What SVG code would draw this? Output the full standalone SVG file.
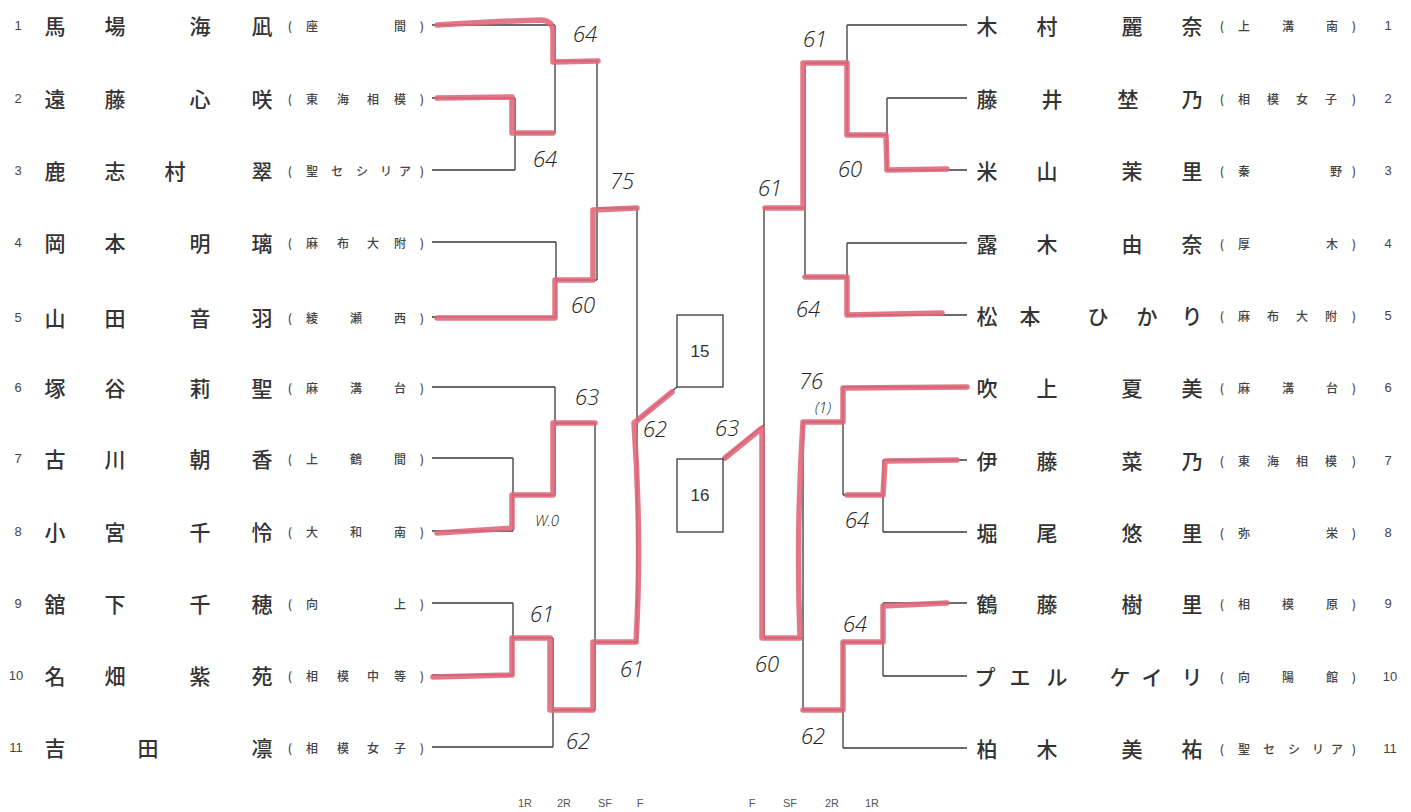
<svg xmlns="http://www.w3.org/2000/svg" width="1411" height="812" viewBox="0 0 1411 812">
<style>
.bg{fill:#ffffff}
.ln{fill:none;stroke:#3a3a3a;stroke-width:1.3}
.box{fill:#ffffff;stroke:#3a3a3a;stroke-width:1.3}
.hl{fill:none;stroke:#e0687a;stroke-width:5.5;stroke-linejoin:round;stroke-linecap:round;opacity:0.9}
.nm{font-family:"Noto Sans CJK JP","Noto Sans CJK SC",sans-serif;font-size:21px;font-weight:500;fill:#333;text-anchor:middle;dominant-baseline:central}
.sc{font-family:"Noto Sans CJK JP","Noto Sans CJK SC",sans-serif;font-size:12px;font-weight:500;fill:#444;text-anchor:middle;dominant-baseline:central}
.no{font-family:"Liberation Sans",Arial,sans-serif;font-size:13px;fill:#444;text-anchor:middle;dominant-baseline:central}
.bx{font-family:"Liberation Sans",Arial,sans-serif;font-size:17px;font-weight:400;fill:#333;text-anchor:middle;dominant-baseline:central}
.ft{font-family:"Liberation Sans",Arial,sans-serif;font-size:11px;fill:#555;text-anchor:middle}
.hw{font-family:"Open Sans","DejaVu Sans",sans-serif;font-style:italic;font-weight:300;font-size:22px;fill:#222;text-anchor:middle;dominant-baseline:central}
.hws{font-family:"Open Sans","DejaVu Sans",sans-serif;font-style:italic;font-weight:300;font-size:15px;fill:#222;text-anchor:middle;dominant-baseline:central}
</style>
<rect class="bg" x="0" y="0" width="1411" height="812"/>

<g id="connectors">
  <!-- left bracket -->
  <path class="ln" d="M432,25 H555 M432,98 H515 M432,170 H515 M515,98 V170 M515,133 H555 M555,25 V133 M555,61 H597"/>
  <path class="ln" d="M432,242 H556 M432,317 H556 M556,242 V317 M556,280 H597 M597,61 V280 M597,208 H637"/>
  <path class="ln" d="M637,208 V642 M637,421 L677,387"/>
  <path class="ln" d="M432,387 H555 M432,458 H513 M432,531 H513 M513,458 V531 M513,495 H555 M555,387 V495 M555,423 H595"/>
  <path class="ln" d="M432,603 H513 M432,675 H513 M513,603 V675 M513,638 H553 M432,747 H553 M553,638 V747 M553,710 H595 M595,423 V710 M595,642 H637"/>
  <!-- right bracket -->
  <path class="ln" d="M967,25 H847 M967,98 H887 M967,170 H887 M887,98 V170 M887,135 H847 M847,25 V135 M847,63 H805"/>
  <path class="ln" d="M967,243 H847 M967,315 H847 M847,243 V315 M847,277 H805 M805,63 V277 M805,208 H764"/>
  <path class="ln" d="M764,208 V638 M764,425 L723,459"/>
  <path class="ln" d="M967,387 H843 M967,460 H883 M967,532 H883 M883,460 V532 M883,495 H843 M843,387 V495 M843,422 H803"/>
  <path class="ln" d="M967,603 H883 M967,676 H883 M883,603 V676 M883,642 H843 M967,748 H843 M843,642 V748 M843,710 H803 M803,422 V710 M803,638 H764"/>
  <!-- highlighted winner paths -->
  <path class="hl" d="M437,25 Q500,21 541,20 Q553,21 553,31 L553,62 L598,61"/>
  <path class="hl" d="M437,98 L512,97 L512,133 L553,133"/>
  <path class="hl" d="M437,318 L555,318 L555,280 L593,280 L593,210 L637,208"/>
  <path class="hl" d="M437,533 Q480,530 512,528 L512,495 L553,495 L553,423 L595,423"/>
  <path class="hl" d="M433,677 Q470,676 512,675 L512,638 L550,638 L550,710 L593,710 L593,642 L636,642 Q642,540 634,423 L672,392"/>
  <path class="hl" d="M947,169 L887,170 L886,135 L847,135 L847,63 L803,63 L803,208 L765,208"/>
  <path class="hl" d="M942,313 L847,315 L847,277 L805,277"/>
  <path class="hl" d="M967,387 L843,388 L843,422 L803,422 Q796,530 800,638 L762,638 L762,428 L725,458"/>
  <path class="hl" d="M957,460 L885,461 L883,495 L847,495"/>
  <path class="hl" d="M947,603 L883,606 L883,642 L843,642 L843,710 L803,710"/>
</g>

<g id="scores">
  <text class="hw" x="585" y="33">64</text>
  <text class="hw" x="545" y="158">64</text>
  <text class="hw" x="622" y="180">75</text>
  <text class="hw" x="583" y="304">60</text>
  <text class="hw" x="587" y="396">63</text>
  <text class="hw" x="655" y="428">62</text>
  <text class="hws" x="547" y="520">W.0</text>
  <text class="hw" x="542" y="613">61</text>
  <text class="hw" x="632" y="668">61</text>
  <text class="hw" x="578" y="740">62</text>
  <text class="hw" x="815" y="38">61</text>
  <text class="hw" x="850" y="168">60</text>
  <text class="hw" x="770" y="187">61</text>
  <text class="hw" x="808" y="308">64</text>
  <text class="hw" x="811" y="380">76</text>
  <text class="hws" x="823" y="407">(1)</text>
  <text class="hw" x="727" y="427">63</text>
  <text class="hw" x="857" y="519">64</text>
  <text class="hw" x="855" y="623">64</text>
  <text class="hw" x="767" y="663">60</text>
  <text class="hw" x="813" y="735">62</text>
</g>

<g id="final15"><rect class="box" x="677" y="315" width="46" height="72"/><text class="bx" x="700" y="351">15</text></g>
<g id="final16"><rect class="box" x="677" y="459" width="46" height="73"/><text class="bx" x="700" y="495">16</text></g>

<g id="L1"><text class="no" x="18" y="25">1</text><text class="nm" x="55 115 200 262" y="25">馬場海凪</text><text class="sc" x="290 312 400 422" y="25">(座間)</text></g>
<g id="L2"><text class="no" x="18" y="98">2</text><text class="nm" x="55 115 200 262" y="98">遠藤心咲</text><text class="sc" x="290 312 343 373 400 422" y="98">(東海相模)</text></g>
<g id="L3"><text class="no" x="18" y="170">3</text><text class="nm" x="55 115 175 262" y="170">鹿志村翠</text><text class="sc" x="290 312 337 362 386 405 422" y="170">(聖セシリア)</text></g>
<g id="L4"><text class="no" x="18" y="242">4</text><text class="nm" x="55 115 200 262" y="242">岡本明璃</text><text class="sc" x="290 312 343 373 400 422" y="242">(麻布大附)</text></g>
<g id="L5"><text class="no" x="18" y="317">5</text><text class="nm" x="55 115 200 262" y="317">山田音羽</text><text class="sc" x="290 312 356 400 422" y="317">(綾瀬西)</text></g>
<g id="L6"><text class="no" x="18" y="387">6</text><text class="nm" x="55 115 200 262" y="387">塚谷莉聖</text><text class="sc" x="290 312 356 400 422" y="387">(麻溝台)</text></g>
<g id="L7"><text class="no" x="18" y="458">7</text><text class="nm" x="55 115 200 262" y="458">古川朝香</text><text class="sc" x="290 312 356 400 422" y="458">(上鶴間)</text></g>
<g id="L8"><text class="no" x="18" y="531">8</text><text class="nm" x="55 115 200 262" y="531">小宮千怜</text><text class="sc" x="290 312 356 400 422" y="531">(大和南)</text></g>
<g id="L9"><text class="no" x="18" y="603">9</text><text class="nm" x="55 115 200 262" y="603">舘下千穂</text><text class="sc" x="290 312 400 422" y="603">(向上)</text></g>
<g id="L10"><text class="no" x="16" y="675">10</text><text class="nm" x="55 115 200 262" y="675">名畑紫苑</text><text class="sc" x="290 312 343 373 400 422" y="675">(相模中等)</text></g>
<g id="L11"><text class="no" x="16" y="747">11</text><text class="nm" x="55 148 262" y="747">吉田凛</text><text class="sc" x="290 312 343 373 400 422" y="747">(相模女子)</text></g>

<g id="R1"><text class="nm" x="987 1047 1132 1192" y="25">木村麗奈</text><text class="sc" x="1222 1244 1288 1332 1354" y="25">(上溝南)</text><text class="no" x="1388" y="25">1</text></g>
<g id="R2"><text class="nm" x="987 1052 1128 1192" y="98">藤井埜乃</text><text class="sc" x="1222 1244 1273 1302 1331 1354" y="98">(相模女子)</text><text class="no" x="1388" y="98">2</text></g>
<g id="R3"><text class="nm" x="987 1047 1132 1192" y="170">米山茉里</text><text class="sc" x="1222 1244 1336 1354" y="170">(秦野)</text><text class="no" x="1388" y="170">3</text></g>
<g id="R4"><text class="nm" x="987 1047 1132 1192" y="243">露木由奈</text><text class="sc" x="1222 1244 1332 1354" y="243">(厚木)</text><text class="no" x="1388" y="243">4</text></g>
<g id="R5"><text class="nm" x="987 1030 1098 1147 1192" y="315">松本ひかり</text><text class="sc" x="1222 1244 1273 1302 1331 1354" y="315">(麻布大附)</text><text class="no" x="1388" y="315">5</text></g>
<g id="R6"><text class="nm" x="987 1047 1132 1192" y="387">吹上夏美</text><text class="sc" x="1222 1244 1288 1332 1354" y="387">(麻溝台)</text><text class="no" x="1388" y="387">6</text></g>
<g id="R7"><text class="nm" x="987 1047 1132 1192" y="460">伊藤菜乃</text><text class="sc" x="1222 1244 1273 1302 1331 1354" y="460">(東海相模)</text><text class="no" x="1388" y="460">7</text></g>
<g id="R8"><text class="nm" x="987 1047 1132 1192" y="532">堀尾悠里</text><text class="sc" x="1222 1244 1332 1354" y="532">(弥栄)</text><text class="no" x="1388" y="532">8</text></g>
<g id="R9"><text class="nm" x="987 1047 1132 1192" y="603">鶴藤樹里</text><text class="sc" x="1222 1244 1288 1332 1354" y="603">(相模原)</text><text class="no" x="1388" y="603">9</text></g>
<g id="R10"><text class="nm" x="985 1020 1057 1120 1152 1192" y="676">プエルケイリ</text><text class="sc" x="1222 1244 1288 1332 1354" y="676">(向陽館)</text><text class="no" x="1390" y="676">10</text></g>
<g id="R11"><text class="nm" x="987 1047 1132 1192" y="748">柏木美祐</text><text class="sc" x="1222 1244 1269 1294 1318 1337 1354" y="748">(聖セシリア)</text><text class="no" x="1390" y="748">11</text></g>

<g id="rounds">
  <text class="ft" x="525" y="807">1R</text>
  <text class="ft" x="564" y="807">2R</text>
  <text class="ft" x="605" y="807">SF</text>
  <text class="ft" x="640" y="807">F</text>
  <text class="ft" x="752" y="807">F</text>
  <text class="ft" x="790" y="807">SF</text>
  <text class="ft" x="832" y="807">2R</text>
  <text class="ft" x="872" y="807">1R</text>
</g>
</svg>
